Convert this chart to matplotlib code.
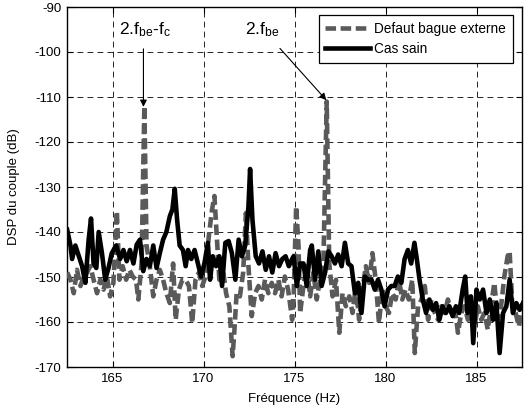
import matplotlib
matplotlib.use("Agg")
import matplotlib.pyplot as plt

plt.rcParams['font.family'] = ['Liberation Sans', 'DejaVu Sans']
plt.rcParams['mathtext.fontset'] = 'custom'
plt.rcParams['mathtext.rm'] = 'Liberation Sans'
plt.rcParams['mathtext.it'] = 'Liberation Sans'
plt.rcParams['axes.unicode_minus'] = False

# ---- data ----
freq_defaut = [162.51, 162.69, 162.87, 163.05, 163.24, 163.42, 163.60, 163.78, 163.96, 164.15,
               164.33, 164.51, 164.69, 164.87, 165.05, 165.24, 165.38, 165.56, 165.75, 165.93,
               166.11, 166.29, 166.42, 166.60, 166.75, 166.87, 167.05, 167.24, 167.42, 167.60,
               167.78, 167.96, 168.15, 168.33, 168.47, 168.65, 168.84, 169.02, 169.20, 169.38,
               169.56, 169.75, 169.93, 170.11, 170.29, 170.47, 170.60, 170.73, 170.87, 171.05,
               171.24, 171.42, 171.60, 171.69, 171.82, 172.00, 172.18, 172.33, 172.47, 172.65,
               172.84, 173.02, 173.20, 173.38, 173.56, 173.75, 173.93, 174.11, 174.29, 174.47,
               174.65, 174.87,
               174.95, 175.09, 175.22, 175.31, 175.49, 175.67, 175.86, 176.04, 176.22, 176.40,
               176.58, 176.77, 176.91, 177.09, 177.28, 177.46, 177.64, 177.82, 178.01, 178.19,
               178.37, 178.55, 178.73, 178.92, 179.10, 179.28, 179.46, 179.64, 179.83, 180.01,
               180.19, 180.37, 180.56, 180.74, 180.92, 181.10, 181.28, 181.47, 181.61, 181.79,
               181.98, 182.16, 182.34, 182.52, 182.71, 182.89, 183.07, 183.25, 183.43, 183.62,
               183.80, 183.98, 184.16, 184.34, 184.53, 184.71, 184.89, 185.07, 185.26, 185.44,
               185.62, 185.80, 185.98, 186.17, 186.35, 186.53, 186.71, 186.82, 186.97, 187.15,
               187.33, 187.52]
dsp_defaut = [-149, -150.6, -153.6, -148.4, -152, -149.9, -149, -147.6, -150.6, -153.6,
              -150.6, -152.8, -149.9, -154.3, -151.3, -135.4, -150.6, -147.6, -150.6, -148.4,
              -149.9, -150.6, -155, -146.9, -112, -143, -147.6, -154.3, -150.6, -148.4,
              -150.6, -153.6, -155.8, -147, -159.5, -152.8, -150.6, -150.6, -152, -160.2,
              -150.6, -149, -152, -149.9, -141, -135, -132, -141, -150.6, -147.6,
              -153.6, -156.5, -167.6, -162.4, -153.6, -154.3, -149, -135.8, -147.6, -158.7,
              -153.6, -152, -155, -150.6, -153.6, -151.3, -153.6, -150.6, -154.3, -149.9,
              -152.8, -159.5,
              -155, -134.3, -143, -158, -152, -147.6, -154.3, -149, -155, -150.6,
              -148.4, -111, -147, -154.3, -150.6, -162.4, -153.6, -156.5, -154.3, -158,
              -152, -159.5, -152.8, -147.6, -151.3, -144.7, -150.6, -160.2, -152.8, -156.5,
              -158, -153.6, -155, -150.6, -155, -152.8, -155, -150.6, -166.9, -156.5,
              -155, -152, -159.5, -155, -158, -159.5, -156.5, -158, -155, -158,
              -156.5, -162.4, -158, -156.5, -159.5, -158, -161, -156.5, -159.5, -158,
              -161.7, -156.5, -151.3, -159.5, -156.5, -149.9, -145.4, -144.3, -156.5, -158,
              -161, -156.5]

freq_sain = [162.51, 162.69, 162.78, 162.96, 163.15, 163.33, 163.51, 163.69, 163.82, 163.96,
             164.11, 164.24, 164.42, 164.60, 164.78, 164.96, 165.20, 165.42, 165.60, 165.78,
             165.96, 166.15, 166.33, 166.51, 166.69, 166.87, 167.05, 167.24, 167.42, 167.60,
             167.78, 167.96, 168.15, 168.29, 168.42, 168.55, 168.69, 168.87, 169.02, 169.15,
             169.33, 169.51, 169.69, 169.87, 170.05, 170.24, 170.36, 170.51, 170.69, 170.87,
             171.02, 171.20, 171.38, 171.56, 171.75, 171.93, 172.11, 172.29, 172.47, 172.56,
             172.69, 172.87, 173.05, 173.24, 173.42, 173.60, 173.78, 173.96, 174.15, 174.33,
             174.51, 174.69, 174.87,
             174.95, 175.13, 175.31, 175.49, 175.67, 175.86, 175.95, 176.13, 176.31, 176.49,
             176.68, 176.86, 177.04, 177.22, 177.40, 177.59, 177.77, 177.95, 178.13, 178.32,
             178.50, 178.68, 178.86, 179.04, 179.23, 179.41, 179.59, 179.77, 179.95, 180.14,
             180.32, 180.50, 180.68, 180.87, 181.05, 181.23, 181.41, 181.59, 181.72, 181.87,
             182.05, 182.23, 182.41, 182.60, 182.78, 182.96, 183.14, 183.32, 183.51, 183.69,
             183.87, 184.05, 184.24, 184.38, 184.51, 184.69, 184.82, 185.00, 185.18, 185.36,
             185.55, 185.73, 185.91, 186.09, 186.27, 186.46, 186.64, 186.82, 187.00, 187.19,
             187.37, 187.55]
dsp_sain = [-139.5, -143, -146, -143, -145.4, -147.6, -151.3, -141.7, -137, -147,
            -148, -140, -144.7, -150.6, -148, -144.7, -143, -146, -144, -146.5,
            -144, -147, -142.8, -141.7, -148.7, -146, -147.6, -143, -148, -144.7,
            -141.7, -140, -136.5, -135, -130.4, -137.3, -143, -144, -147.6, -144,
            -146, -144, -147, -149.9, -147, -142.4, -150.6, -145.4, -147.6, -145.4,
            -152, -142.4, -142, -144.7, -150.6, -141.7, -145.4, -143, -134.3, -126,
            -137.3, -145.4, -147, -144.3, -148.4, -145.4, -149, -144.7, -147.6, -146,
            -145.4, -147.6, -146,
            -145.4, -152, -147, -147, -152, -144, -143, -150.6, -144.3, -152,
            -149, -144.3, -145.4, -147, -145, -147.6, -142.4, -147, -147.6, -153.6,
            -151.3, -158, -149.9, -150.6, -150.6, -152.8, -150.6, -152.8, -156.5, -152.8,
            -152, -152, -149.9, -151.3, -146, -144, -147, -142.4, -146, -150.6,
            -155, -158, -155, -157.3, -155.8, -159.5, -156.5, -158, -156.5, -158.7,
            -156.5, -158, -152.8, -149.9, -158, -154.3, -164.7, -152.8, -155, -152.8,
            -158, -155, -159.5, -155.8, -166.9, -158, -156.5, -150.6, -158, -155.8,
            -157.3, -155.8]

x_ticks = [165, 170, 175, 180, 185]
y_ticks = [-170, -160, -150, -140, -130, -120, -110, -100, -90]

fig = plt.figure(figsize=(5.26, 4.12), dpi=100)
ax = fig.add_axes([67/526, 45/412, 455/526, 360/412])

ax.plot(freq_defaut, dsp_defaut, color='#5a5a5a', lw=3.3, linestyle=(0, (2.3, 1.0)),
        label='Defaut bague externe', zorder=3)
ax.plot(freq_sain, dsp_sain, color='black', lw=3.3, label='Cas sain', zorder=4)

ax.set_xlim(162.5, 187.5)
ax.set_ylim(-170, -90)
ax.set_xticks(x_ticks)
ax.set_yticks(y_ticks)
ax.grid(True, color='black', lw=0.6, linestyle=(0, (7, 5)))
ax.set_axisbelow(True)
ax.tick_params(direction='in', length=4, width=0.8, top=True, right=True,
               labelsize=9.5, pad=4)
for s in ax.spines.values():
    s.set_linewidth(1.0)

ax.set_xlabel('Fréquence (Hz)', fontsize=9.5)
ax.set_ylabel('DSP du couple (dB)', fontsize=9.5)
ax.xaxis.set_label_coords(0.5, -0.072)
ax.yaxis.set_label_coords(-0.103, 0.5)

leg = ax.legend(loc='upper right', bbox_to_anchor=(0.980, 0.978), borderaxespad=0,
                fontsize=9.8, fancybox=False, framealpha=1, edgecolor='black',
                handlelength=3.3, handletextpad=0.3, labelspacing=0.45,
                borderpad=0.5)
leg.get_frame().set_linewidth(0.9)

ax.text(165.35, -96.0, r'2.f$_{\mathrm{be}}$-f$_{\mathrm{c}}$', fontsize=12.5, va='baseline')
ax.text(172.28, -96.0, r'2.f$_{\mathrm{be}}$', fontsize=12.5, va='baseline')
ax.annotate('', xy=(166.7, -112.2), xytext=(166.7, -99.3),
            arrowprops=dict(arrowstyle='-|>', color='black', lw=0.8,
                            mutation_scale=10, shrinkA=0, shrinkB=0))
ax.annotate('', xy=(176.75, -110.7), xytext=(174.2, -99.2),
            arrowprops=dict(arrowstyle='-|>', color='black', lw=0.8,
                            mutation_scale=10, shrinkA=0, shrinkB=0))

fig.savefig('out.png', dpi=100)
